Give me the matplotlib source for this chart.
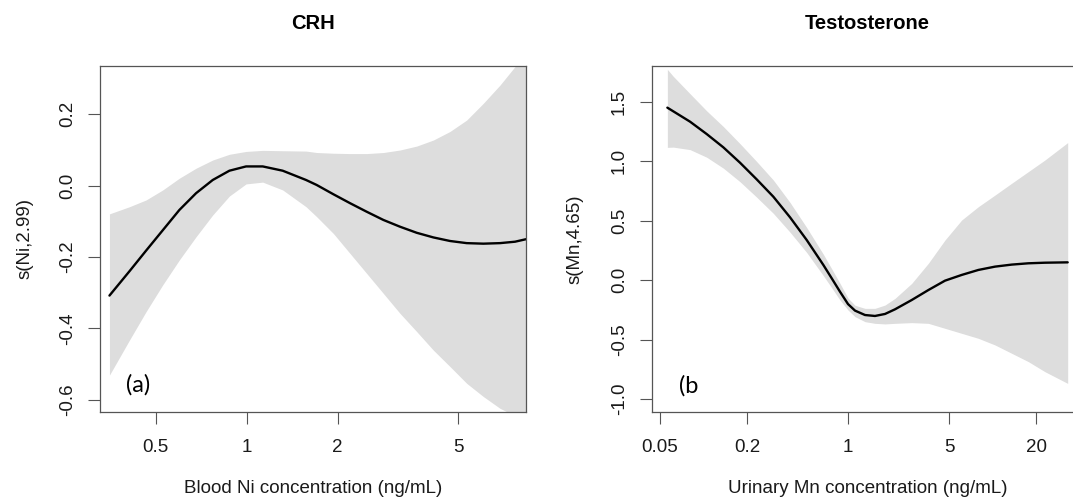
import matplotlib
matplotlib.use("Agg")
import matplotlib.pyplot as plt
from matplotlib.ticker import NullLocator

plt.rcParams['font.family'] = ['Liberation Sans', 'DejaVu Sans']

# ---------------- data: panel (a) CRH vs blood Ni ----------------
ni_x = [0.3513, 0.4090, 0.4644, 0.5272, 0.5985, 0.6797, 0.7717, 0.8761, 0.9947,
        1.1293, 1.3151, 1.5710, 1.7037, 1.9348, 2.1963, 2.4938, 2.8314, 3.2146,
        3.6502, 4.1440, 4.7043, 5.3420, 6.0645, 6.8847, 7.7200, 8.393]
ni_fit = [-0.308, -0.240, -0.182, -0.125, -0.068, -0.021, 0.016, 0.042, 0.054,
          0.054, 0.042, 0.016, 0.002, -0.024, -0.049, -0.073, -0.096, -0.115,
          -0.132, -0.145, -0.155, -0.161, -0.1625, -0.161, -0.157, -0.150]
ni_upper = [-0.079, -0.059, -0.040, -0.012, 0.021, 0.049, 0.072, 0.088, 0.096,
            0.099, 0.098, 0.097, 0.093, 0.091, 0.090, 0.090, 0.093, 0.100,
            0.111, 0.128, 0.152, 0.184, 0.231, 0.282, 0.334, 0.375]
ni_lower = [-0.531, -0.433, -0.353, -0.278, -0.208, -0.143, -0.082, -0.029, 0.005,
            0.010, -0.012, -0.059, -0.087, -0.134, -0.190, -0.246, -0.302, -0.358,
            -0.409, -0.461, -0.507, -0.554, -0.591, -0.624, -0.645, -0.675]
ni_xticks = [0.5, 1, 2, 5]
ni_xticklabels = ["0.5", "1", "2", "5"]
ni_yticks = [0.2, 0.0, -0.2, -0.4, -0.6]
ni_yticklabels = ["0.2", "0.0", "-0.2", "-0.4", "-0.6"]

# ---------------- data: panel (b) Testosterone vs urinary Mn ----------------
mn_x = [0.0562, 0.0618, 0.0807, 0.1052, 0.1372, 0.1789, 0.2333, 0.3043, 0.3968,
        0.5176, 0.675, 0.771, 0.880, 1.0, 1.118, 1.311, 1.537, 1.804, 2.115,
        2.758, 3.597, 4.691, 6.117, 7.978, 10.41, 13.57, 17.70, 23.08, 33.13]
mn_fit = [1.452, 1.421, 1.334, 1.230, 1.118, 0.989, 0.849, 0.703, 0.530,
          0.339, 0.129, 0.017, -0.096, -0.200, -0.255, -0.292, -0.300, -0.283,
          -0.244, -0.166, -0.082, -0.003, 0.045, 0.087, 0.115, 0.132, 0.143,
          0.148, 0.151]
mn_upper = [1.774, 1.715, 1.569, 1.425, 1.293, 1.149, 0.999, 0.843, 0.655,
            0.444, 0.219, 0.097, -0.026, -0.150, -0.210, -0.236, -0.236, -0.208,
            -0.152, -0.026, 0.143, 0.339, 0.507, 0.619, 0.717, 0.816, 0.914,
            1.012, 1.158]
mn_lower = [1.118, 1.120, 1.099, 1.035, 0.943, 0.829, 0.699, 0.563, 0.405,
            0.234, 0.039, -0.063, -0.166, -0.250, -0.306, -0.348, -0.362, -0.367,
            -0.362, -0.356, -0.362, -0.404, -0.446, -0.488, -0.544, -0.614,
            -0.684, -0.769, -0.867]
mn_xticks = [0.05, 0.2, 1, 5, 20]
mn_xticklabels = ["0.05", "0.2", "1", "5", "20"]
mn_yticks = [1.5, 1.0, 0.5, 0.0, -0.5, -1.0]
mn_yticklabels = ["1.5", "1.0", "0.5", "0.0", "-0.5", "-1.0"]

titles = ["CRH", "Testosterone"]
xlabels = ["Blood Ni concentration (ng/mL)", "Urinary Mn concentration (ng/mL)"]
ylabels = ["s(Ni,2.99)", "s(Mn,4.65)"]
panel_tags = ["(a)", "(b"]

# ---------------- figure ----------------
W, H = 1073, 500
fig = plt.figure(figsize=(W / 100, H / 100), dpi=100)
fig.patch.set_facecolor("white")

ax1 = fig.add_axes([100 / W, 1 - 411.7 / H, 426 / W, 345.7 / H])
ax2 = fig.add_axes([651.7 / W, 1 - 411.7 / H, 432 / W, 345.7 / H])

band_color = "#dddddd"
spine_color = "#555555"
text_color = "#1a1a1a"

panels = [
    (ax1, ni_x, ni_fit, ni_upper, ni_lower, ni_xticks, ni_xticklabels,
     ni_yticks, ni_yticklabels, (0.3269, 8.393), (-0.6335, 0.3355)),
    (ax2, mn_x, mn_fit, mn_upper, mn_lower, mn_xticks, mn_xticklabels,
     mn_yticks, mn_yticklabels, (0.04379, 42.76), (-1.1051, 1.8023)),
]

for i, (ax, x, fit, up, lo, xt, xtl, yt, ytl, xl, yl) in enumerate(panels):
    ax.set_xscale("log")
    ax.fill_between(x, lo, up, color=band_color, linewidth=0, zorder=1)
    ax.plot(x, fit, color="black", linewidth=1.7, zorder=2,
            solid_joinstyle="round", solid_capstyle="round")
    ax.set_xlim(*xl)
    ax.set_ylim(*yl)
    ax.set_xticks(xt, xtl)
    ax.set_yticks(yt, ytl)
    ax.xaxis.set_minor_locator(NullLocator())
    ax.yaxis.set_minor_locator(NullLocator())
    for s in ax.spines.values():
        s.set_color(spine_color)
        s.set_linewidth(0.9)
    ax.tick_params(axis="both", direction="out", length=8.5, width=0.8,
                   color=spine_color, labelsize=13.5, labelcolor=text_color)
    ax.tick_params(axis="x", pad=11.0)
    ax.tick_params(axis="y", pad=8.5)
    for lbl in ax.get_yticklabels():
        lbl.set_rotation(90)
        lbl.set_va("center")

    ax.set_xlabel(xlabels[i], fontsize=13.5, color=text_color, va="center")
    ax.xaxis.set_label_coords(0.5, (411.7 - 488) / 345.7)
    ax.set_ylabel(ylabels[i], fontsize=13.5, color=text_color, va="center")

    ax.text(0.5, (411.7 - 29.2) / 345.7, titles[i], transform=ax.transAxes,
            ha="center", va="baseline", fontsize=14.5, fontweight="bold",
            color="black")

ax1.yaxis.set_label_coords((25 - 100) / 426, 0.5)
ax2.yaxis.set_label_coords((575 - 651.7) / 432, 0.5)

ax1.text((126 - 100) / 426, (411.7 - 385) / 345.7, panel_tags[0],
         transform=ax1.transAxes, ha="left", va="center", fontsize=17,
         family=["Lato", "DejaVu Sans"], color="black")
ax2.text((679.3 - 651.7) / 432, (411.7 - 386) / 345.7, panel_tags[1],
         transform=ax2.transAxes, ha="left", va="center", fontsize=17,
         family=["Lato", "DejaVu Sans"], color="black")

fig.savefig("out.png", dpi=100)
